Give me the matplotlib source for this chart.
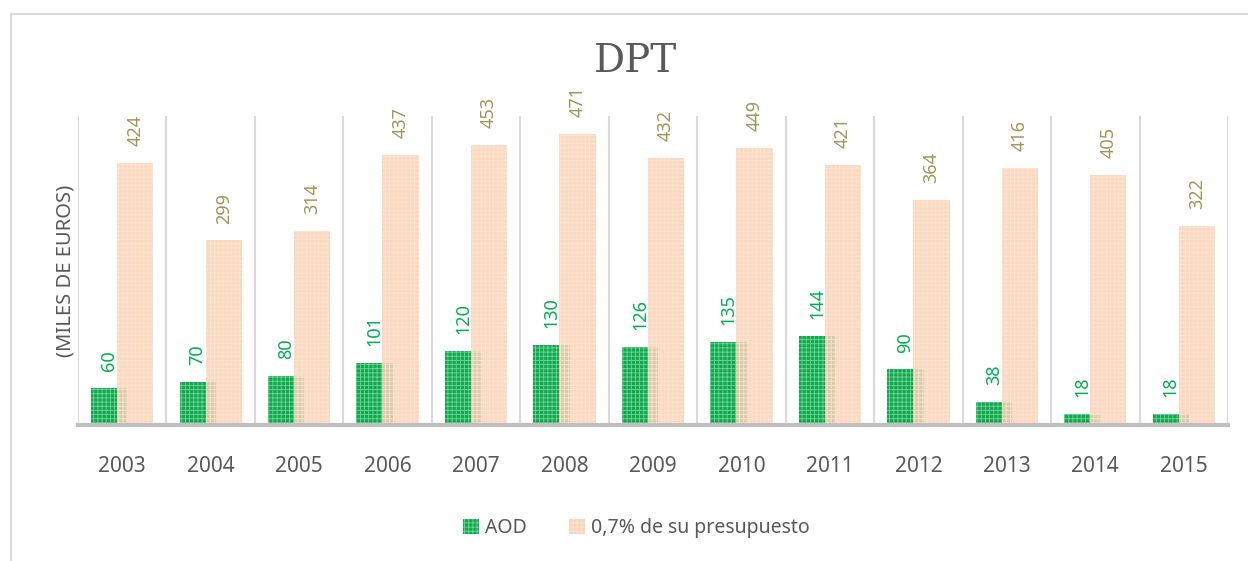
import matplotlib.pyplot as plt
import matplotlib
import matplotlib.patches as mpatches
from matplotlib.lines import Line2D
import numpy as np

matplotlib.rcParams['font.family'] = ['Noto Sans', 'DejaVu Sans']
matplotlib.rcParams['hatch.linewidth'] = 0.6

# ── 数据 ──────────────────────────────────────────
years = ['2003', '2004', '2005', '2006', '2007', '2008', '2009',
         '2010', '2011', '2012', '2013', '2014', '2015']
aod = [60, 70, 80, 101, 120, 130, 126, 135, 144, 90, 38, 18, 18]
presupuesto = [424, 299, 314, 437, 453, 471, 432, 449, 421, 364, 416, 405, 322]

green = '#12A84F'
green_hatch = '#6FD596'
peach = '#FBD3B6'
peach_hatch = '#FDE6D6'
green_txt = '#00B050'
olive_txt = '#A0965A'
grey_txt = '#595959'

fig = plt.figure(figsize=(12.48, 5.61), dpi=100)
fig.patch.set_facecolor('white')

# marco exterior
W, H = 1248, 561
fig.add_artist(Line2D([11 / W, 11 / W], [0, 1 - 14 / H], color='#D9D9D9', lw=1.5))
fig.add_artist(Line2D([11 / W, 1], [1 - 14 / H, 1 - 14 / H], color='#D9D9D9', lw=1.5))

ax = fig.add_axes([78 / W, 1 - 425 / H, (1228 - 78) / W, (425 - 116) / H])
x = np.arange(len(years))
bw = 0.41
off = 0.147

ax.bar(x - off, aod, width=bw, color=green, edgecolor=green_hatch,
       hatch='++++', linewidth=0, zorder=3)
ax.bar(x + off, presupuesto, width=bw, color=peach, edgecolor=peach_hatch,
       hatch='++++', linewidth=0, alpha=0.85, zorder=4)

for xi, v in zip(x, aod):
    ax.annotate(f'{v}', (xi - off, v), xytext=(0, 12), textcoords='offset points',
                rotation=90, ha='center', va='bottom', fontsize=13, color=green_txt)
for xi, v in zip(x, presupuesto):
    ax.annotate(f'{v}', (xi + off, v), xytext=(0, 12), textcoords='offset points',
                rotation=90, ha='center', va='bottom', fontsize=13, color=olive_txt)

ax.set_xlim(-0.5, len(years) - 0.5)
ax.set_ylim(0, 500)
ax.set_yticks([])
ax.set_xticks(x)
ax.set_xticklabels(years, fontsize=15, color=grey_txt)
ax.tick_params(axis='x', length=0, pad=22)

# líneas verticales de categoría
for b in np.arange(-0.5, len(years), 1.0):
    ax.axvline(b, color='#D9D9D9', lw=1.5, zorder=1)

for s in ['top', 'right', 'left']:
    ax.spines[s].set_visible(False)
ax.spines['bottom'].set_color('#BFBFBF')
ax.spines['bottom'].set_linewidth(3)
ax.spines['bottom'].set_zorder(5)

ax.set_ylabel('(MILES DE EUROS)', fontsize=14.5, color=grey_txt, labelpad=2)

fig.text(0.509, 1 - 62 / H, 'DPT', ha='center', va='center', fontsize=28,
         family='DejaVu Serif', color=grey_txt)

handles = [mpatches.Patch(facecolor=green, edgecolor=green_hatch, hatch='++++', linewidth=0),
           mpatches.Patch(facecolor=peach, edgecolor=peach_hatch, hatch='++++', linewidth=0)]
fig.legend(handles, ['AOD', '0,7% de su presupuesto'], loc='center',
           bbox_to_anchor=(0.51, 1 - 528 / H), ncol=2, frameon=False,
           fontsize=14, labelcolor=grey_txt, handlelength=0.8, handleheight=0.8,
           handletextpad=0.3, columnspacing=2.2)

plt.savefig('out.png', dpi=100)
